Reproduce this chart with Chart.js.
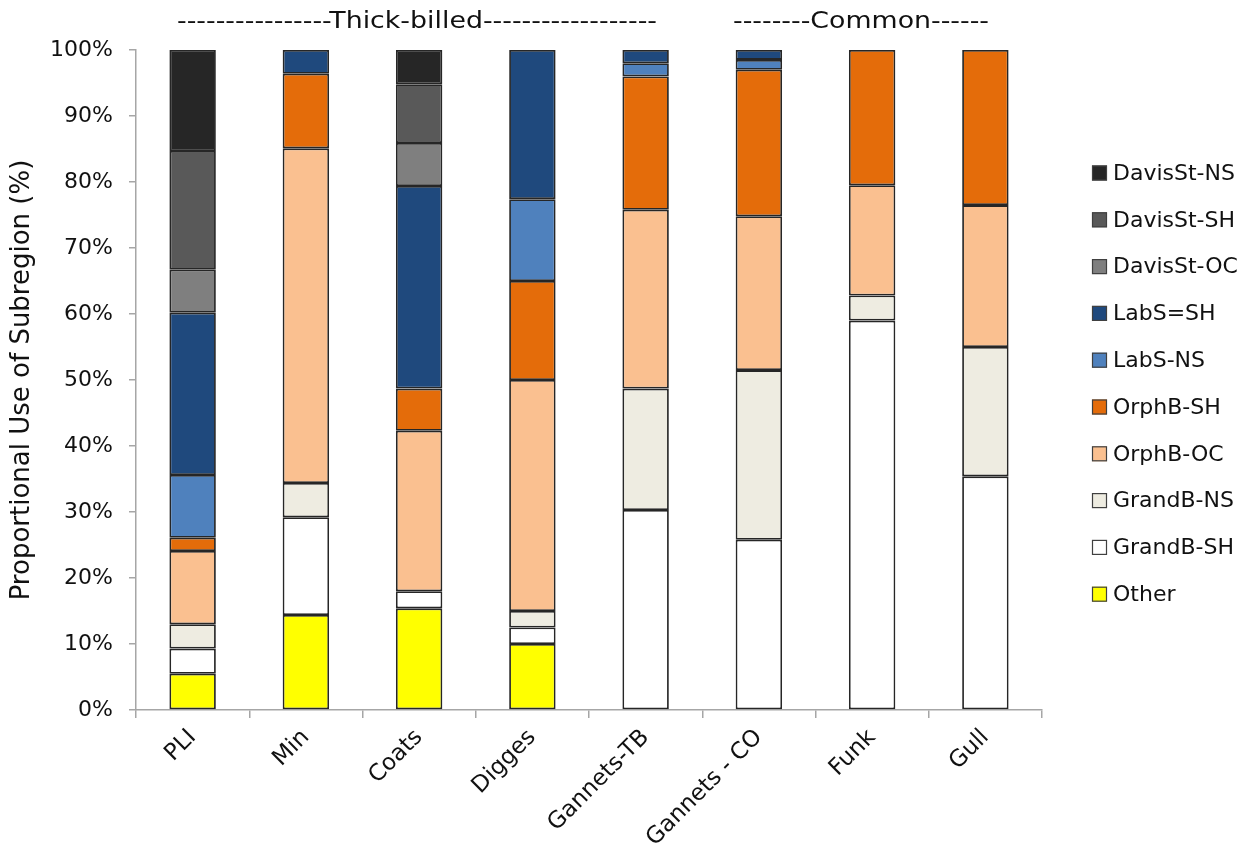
<!DOCTYPE html>
<html>
<head>
<meta charset="utf-8">
<script src="https://cdn.jsdelivr.net/npm/chart.js@4/dist/chart.umd.min.js"></script>
<style>
  html, body { margin: 0; padding: 0; background: #fff; }
  #wrap { width: 1253px; height: 848px; position: relative; }
</style>
</head>
<body>
<div id="wrap"><canvas id="c" width="1253" height="848"></canvas></div>
<script>
const categories = ['PLI', 'Min', 'Coats', 'Digges', 'Gannets-TB', 'Gannets - CO', 'Funk', 'Gull'];
const yTicks = [0, 10, 20, 30, 40, 50, 60, 70, 80, 90, 100];
const groupTitles = ['----------------Thick-billed------------------', '--------Common------'];

const other     = [5.5, 14.4, 15.4, 10.0, 0, 0, 0, 0];
const grandBSH  = [3.8, 14.8, 2.6, 2.5, 30.3, 25.8, 59.0, 35.4];
const grandBNS  = [3.7, 5.2, 0, 2.5, 18.4, 25.7, 3.8, 19.6];
const orphBOC   = [11.1, 50.7, 24.3, 35.0, 27.1, 23.3, 16.7, 21.5];
const orphBSH   = [2.0, 11.3, 6.4, 15.0, 20.2, 22.2, 20.5, 23.5];
const labSNS    = [9.5, 0, 0, 12.4, 2.0, 1.5, 0, 0];
const labSSH    = [24.6, 3.6, 30.7, 22.6, 2.0, 1.5, 0, 0];
const davisOC   = [6.5, 0, 6.5, 0, 0, 0, 0, 0];
const davisSH   = [18.0, 0, 8.9, 0, 0, 0, 0, 0];
const davisNS   = [15.3, 0, 5.2, 0, 0, 0, 0, 0];

const seriesNames = ['Other', 'GrandB-SH', 'GrandB-NS', 'OrphB-OC', 'OrphB-SH', 'LabS-NS', 'LabS=SH', 'DavisSt-OC', 'DavisSt-SH', 'DavisSt-NS'];
const seriesData = [other, grandBSH, grandBNS, orphBOC, orphBSH, labSNS, labSSH, davisOC, davisSH, davisNS];
const seriesColors = ['#ffff00', '#ffffff', '#eeece1', '#fac090', '#e46c0a', '#4f81bd', '#1f497d', '#7f7f7f', '#595959', '#262626'];

const FONT = 'DejaVu Sans';

const datasets = seriesNames.map((n, i) => ({
  label: n,
  data: seriesData[i].map(v => (v === 0 ? null : v)),
  backgroundColor: seriesColors[i],
  borderColor: '#262626',
  borderWidth: 1.8,
  borderSkipped: false,
  barPercentage: 0.41,
  categoryPercentage: 1.0
}));

const overlay = {
  id: 'overlay',
  afterDraw(chart) {
    const ctx = chart.ctx;
    ctx.save();
    ctx.fillStyle = '#111';
    ctx.textBaseline = 'middle';
    const titleSpecs = [
      { text: groupTitles[0], cx: 417, w: 480 },
      { text: groupTitles[1], cx: 861, w: 256 }
    ];
    ctx.font = '23px "' + FONT + '"';
    titleSpecs.forEach(t => {
      const m = ctx.measureText(t.text).width;
      const s = t.w / m;
      ctx.save();
      ctx.translate(t.cx, 22);
      ctx.scale(s, 1);
      ctx.textAlign = 'center';
      ctx.fillText(t.text, 0, 0);
      ctx.restore();
    });
    ctx.font = '22px "' + FONT + '"';
    ctx.textAlign = 'left';
    const n = chart.data.datasets.length;
    for (let k = 0; k < n; k++) {
      const ds = chart.data.datasets[n - 1 - k];
      const cy = 173 + k * 46.8;
      ctx.fillStyle = ds.backgroundColor;
      ctx.fillRect(1092, cy - 7.5, 15, 15);
      ctx.strokeStyle = '#404040';
      ctx.lineWidth = 1.2;
      ctx.strokeRect(1092.5, cy - 7, 14, 14);
      ctx.fillStyle = '#111';
      ctx.fillText(ds.label, 1113, cy + 1);
    }
    ctx.restore();
  }
};

new Chart(document.getElementById('c'), {
  type: 'bar',
  data: { labels: categories, datasets },
  options: {
    responsive: false,
    animation: false,
    layout: { padding: { left: 0, right: 211, top: 50, bottom: 0 } },
    plugins: { legend: { display: false }, tooltip: { enabled: false } },
    scales: {
      x: {
        stacked: true,
        afterFit(s) { s.height = 138; },
        grid: { offset: true, drawOnChartArea: false, drawTicks: true, tickLength: 8, color: '#a6a6a6', lineWidth: 1.5 },
        border: { color: '#a6a6a6', width: 1.5 },
        ticks: { maxRotation: 45, minRotation: 45, padding: 6, color: '#111', font: { family: FONT, size: 23 } }
      },
      y: {
        stacked: true,
        min: 0, max: 100,
        afterFit(s) { s.width = 136; },
        afterBuildTicks(s) { s.ticks = yTicks.map(v => ({ value: v })); },
        grid: { drawOnChartArea: false, drawTicks: true, tickLength: 7, color: '#a6a6a6', lineWidth: 1.5 },
        border: { color: '#a6a6a6', width: 1.5 },
        ticks: { padding: 16, color: '#111', font: { family: FONT, size: 22 }, callback: v => v + '%' },
        title: { display: true, text: 'Proportional Use of Subregion (%)', color: '#111', padding: { top: 7, bottom: 4 }, font: { family: FONT, size: 26 } }
      }
    }
  },
  plugins: [overlay]
});
</script>
</body>
</html>
